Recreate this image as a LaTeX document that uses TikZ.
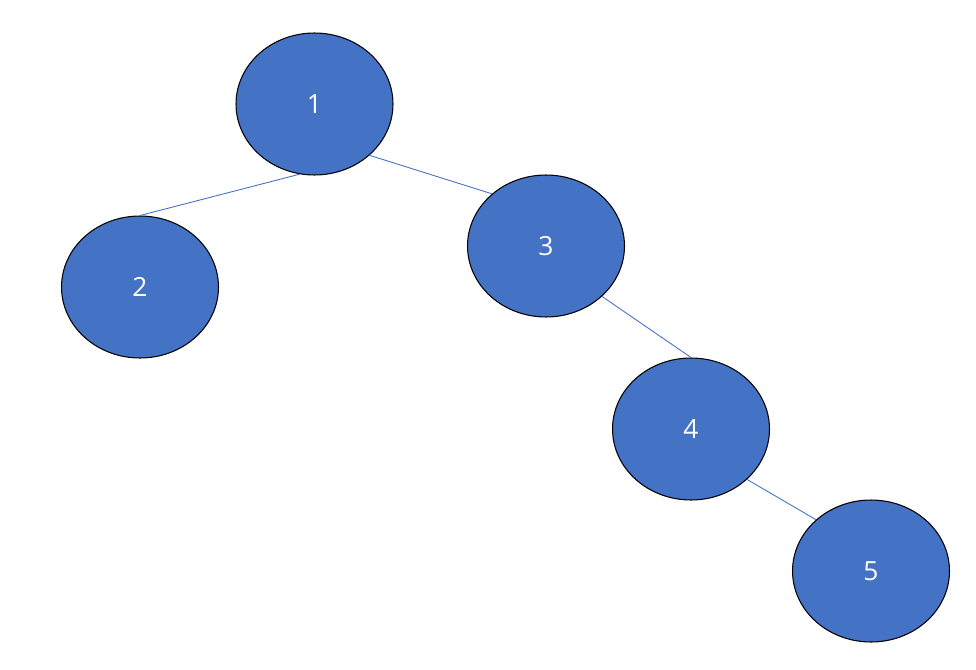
\documentclass[tikz,border=0pt]{standalone}
\usepackage{fontspec}
\setmainfont{Open Sans}
\usepackage{tikz}
\usetikzlibrary{positioning, shapes.geometric}

\definecolor{nodeblue}{HTML}{4472C4}
\tikzset{
    treenode/.style={ellipse, draw=black, line width=0.6pt, fill=nodeblue,
        minimum width=3.14cm, minimum height=2.84cm, inner sep=0pt,
        text=white, font=\fontsize{15}{18}\selectfont},
    treeedge/.style={draw=nodeblue, line width=0.5pt}
}

\begin{document}
\begin{tikzpicture}[x=0.02cm, y=-0.02cm]
    \useasboundingbox (0,0) rectangle (976,669);
    % the nodes
    \node[treenode] (n1) at (314.5,104) {1};
    \node[treenode] (n2) at (140,287) {2};
    \node[treenode] (n3) at (546,246) {3};
    \node[treenode] (n4) at (691,429) {4};
    \node[treenode] (n5) at (871,571) {5};
    % the edges
    \draw[treeedge] (n1.258) -- (n2.north);
    \draw[treeedge] (n1.317) -- (n3.136);
    \draw[treeedge] (n3.318) -- (n4.north);
    \draw[treeedge] (n4.318) -- (n5.137);
\end{tikzpicture}
\end{document}
